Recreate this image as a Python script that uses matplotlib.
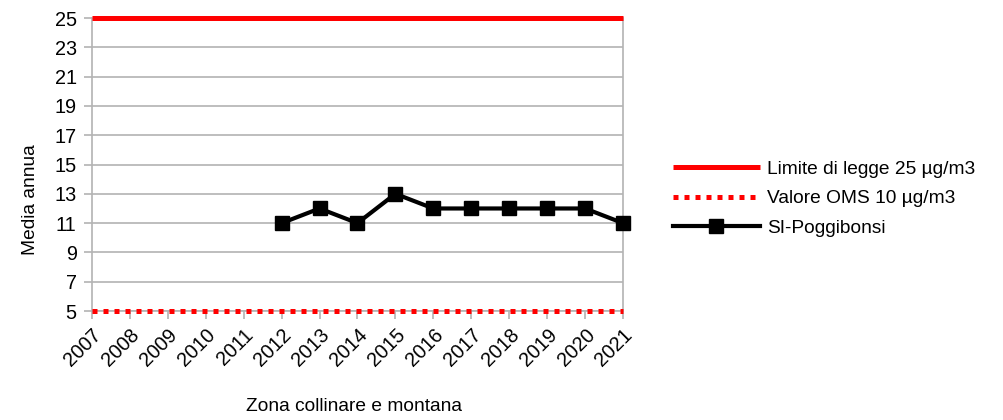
import matplotlib
matplotlib.use("Agg")
import matplotlib.pyplot as plt

plt.rcParams['font.family'] = ['Liberation Sans', 'DejaVu Sans']

# dati
anni = list(range(2007, 2022))
limite_legge = [25] * len(anni)
valore_oms = [5] * len(anni)
anni_poggibonsi = [2012, 2013, 2014, 2015, 2016, 2017, 2018, 2019, 2020, 2021]
poggibonsi = [11, 12, 11, 13, 12, 12, 12, 12, 12, 11]
yticks = list(range(5, 26, 2))

fig = plt.figure(figsize=(10.04, 4.2), dpi=100)
ax = fig.add_axes([0.0916, 0.2595, 0.5289, 0.6975])

ax.plot(anni, limite_legge, color='#ff0000', lw=3.6, label='Limite di legge 25 µg/m3',
        solid_capstyle='butt', zorder=3, clip_on=False)
ax.plot(anni, valore_oms, color='#ff0000', lw=3.6, dashes=(1.0, 1.2),
        label='Valore OMS 10 µg/m3', zorder=3, clip_on=False)
ax.plot(anni_poggibonsi, poggibonsi, color='black', lw=3, marker='s', markersize=10,
        label='SI-Poggibonsi', zorder=4, clip_on=False)

ax.set_xlim(2007, 2021)
ax.set_ylim(5, 25)
ax.set_yticks(yticks)
ax.set_xticks(anni)
ax.set_xticklabels([str(a) for a in anni], rotation=45, ha='right', rotation_mode='anchor')
ax.tick_params(axis='both', labelsize=14.3, color='#b3b3b3', length=6, width=1.2)
ax.tick_params(axis='x', pad=4)
ax.tick_params(axis='y', pad=5)

ax.grid(axis='y', color='#b3b3b3', lw=1.2)
ax.set_axisbelow(True)
for s in ['top']:
    ax.spines[s].set_visible(False)
for s in ['left', 'right', 'bottom']:
    ax.spines[s].set_color('#b3b3b3')
    ax.spines[s].set_linewidth(1.2)

ax.set_ylabel('Media annua', fontsize=13.8)
ax.yaxis.set_label_coords(-0.1, 0.379)
fig.text(0.353, 0.022, 'Zona collinare e montana', fontsize=13.8, ha='center')

ax.legend(loc='center left', bbox_to_anchor=(0.663, 0.527), bbox_transform=fig.transFigure,
          frameon=False, fontsize=13.8, handlelength=4.5, handletextpad=0.4,
          labelspacing=0.62, borderaxespad=0)

fig.savefig('out.png', dpi=100)
